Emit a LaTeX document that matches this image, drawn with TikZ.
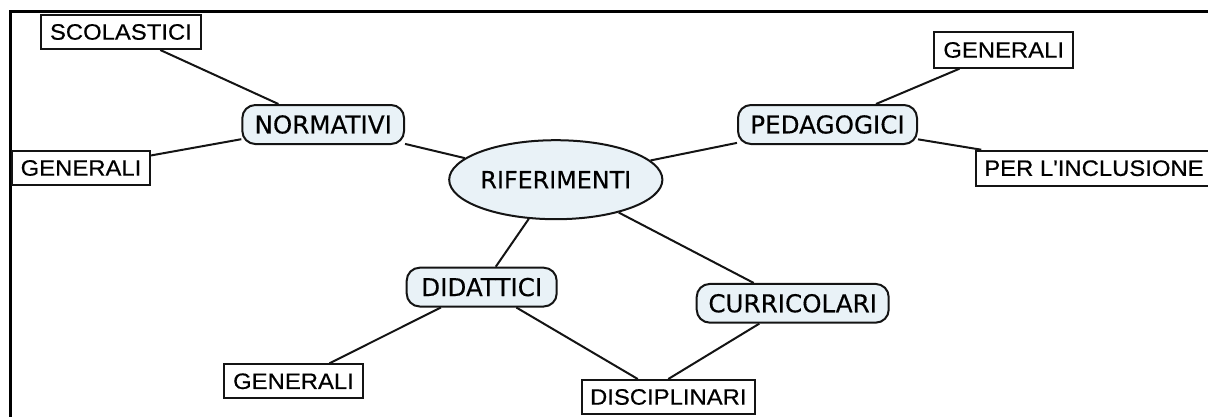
\documentclass[tikz,border=0pt]{standalone}
\usepackage{fontspec}
\setmainfont{Liberation Sans}
\newfontfamily\boxfont{Liberation Sans}[FakeStretch=1.07,FakeBold=0.5]
\newfontfamily\roundfont{DejaVu Sans}[FakeBold=0.4]
\usetikzlibrary{shapes.geometric}
\definecolor{nodefill}{RGB}{233,242,247}
\definecolor{inkc}{RGB}{20,20,20}
\tikzset{
  boxnode/.style={draw=inkc, line width=2pt, fill=white, inner sep=0pt,
    font=\boxfont\fontsize{22.3}{24}\selectfont},
  roundnode/.style={draw=inkc, line width=2pt, fill=nodefill, rounded corners=13pt,
    inner sep=0pt, font=\roundfont\fontsize{24.6}{27}\selectfont},
  ellnode/.style={draw=inkc, line width=2pt, fill=nodefill, ellipse, inner sep=0pt,
    font=\roundfont\fontsize{23.8}{26}\selectfont},
  link/.style={draw=inkc, line width=2pt},
  framestyle/.style={draw=black, line width=3pt}
}
\begin{document}
\begin{tikzpicture}[x=1pt,y=-1pt]
\useasboundingbox (0,0) rectangle (1208,416);
\coordinate (fbl) at (10.5,418);
\coordinate (fcorner) at (10.5,11.7);
\coordinate (ftr) at (1210,11.7);
\draw[framestyle] (fbl) -- (fcorner) -- (ftr);

% central
\node[ellnode, minimum width=187pt, minimum height=79pt] (rif) at (555.8,179.7) {RIFERIMENTI};
% level 1
\node[roundnode, minimum width=161.7pt, minimum height=39pt] (norm) at (323.2,124.5) {NORMATIVI};
\node[roundnode, minimum width=179pt, minimum height=39pt] (ped) at (827.5,124.5) {PEDAGOGICI};
\node[roundnode, minimum width=150pt, minimum height=38.8pt] (did) at (481.7,287.1) {DIDATTICI};
\node[roundnode, minimum width=192pt, minimum height=38.7pt] (cur) at (792.7,303.3) {CURRICOLARI};
% leaves
\node[boxnode, minimum width=159.7pt, minimum height=34pt] (scol) at (120.9,32) {SCOLASTICI};
\node[boxnode, minimum width=138pt, minimum height=34pt] (genL) at (81,168) {GENERALI};
\node[boxnode, minimum width=138.7pt, minimum height=35.4pt] (genTR) at (1003.7,50) {GENERALI};
\node[boxnode, minimum width=236pt, minimum height=35pt] (incl) at (1094,168.2) {PER L'INCLUSIONE};
\node[boxnode, minimum width=139.2pt, minimum height=34pt] (genB) at (293.5,381.3) {GENERALI};
\node[boxnode, minimum width=173.4pt, minimum height=34pt] (disc) at (668.3,397) {DISCIPLINARI};

% connectors
\draw[link] (scol) -- (norm);
\draw[link] (norm) -- (genL);
\draw[link] (norm) -- (rif);
\draw[link] (rif) -- (ped);
\draw[link] (ped) -- (genTR);
\draw[link] (ped) -- (incl);
\draw[link] (rif) -- (did);
\draw[link] (rif) -- (cur);
\draw[link] (did) -- (genB);
\draw[link] (did) -- (disc);
\draw[link] (cur) -- (disc.north);
\end{tikzpicture}
\end{document}
